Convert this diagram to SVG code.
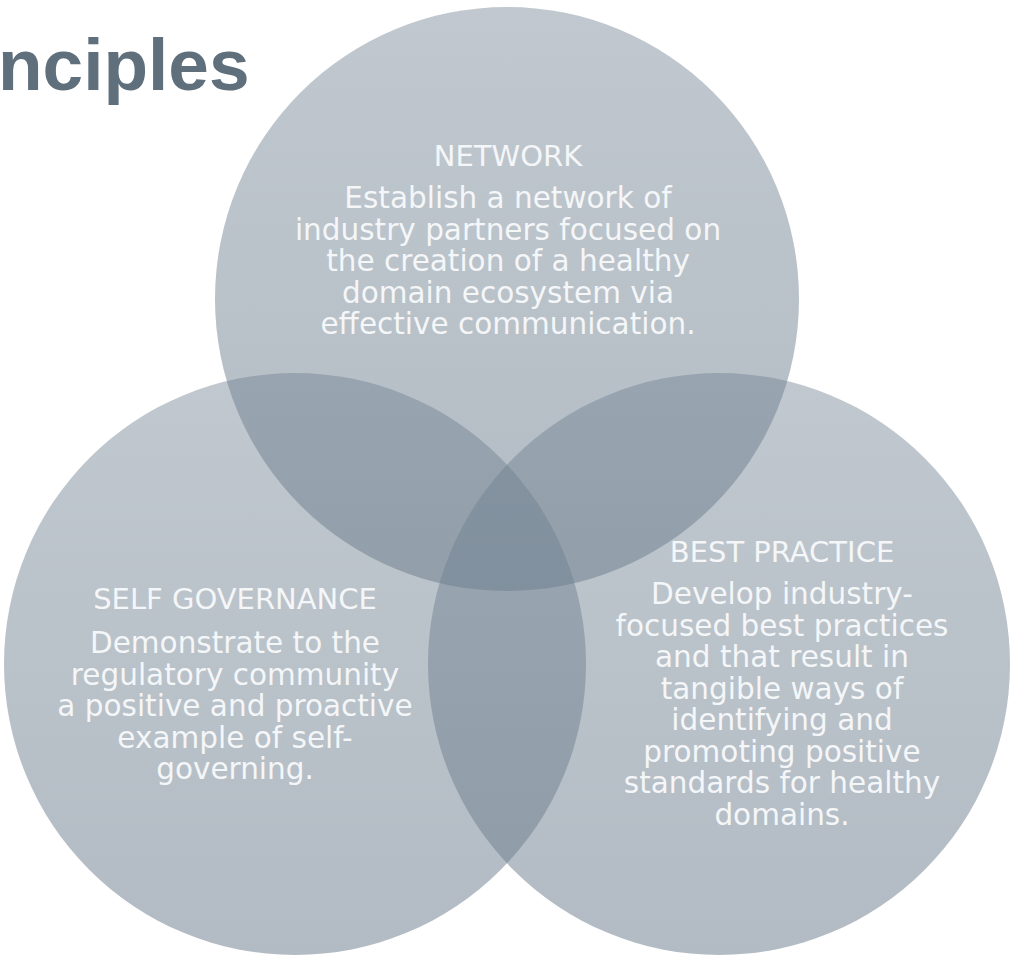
<svg xmlns="http://www.w3.org/2000/svg" width="1014" height="956" viewBox="0 0 1014 956">
<defs>
<linearGradient id="g" x1="0" y1="0" x2="0" y2="1">
<stop offset="0" stop-color="#6E7F8F" stop-opacity="0.43"/>
<stop offset="1" stop-color="#6E7F8F" stop-opacity="0.53"/>
</linearGradient>
<style>
.c{fill:url(#g);}
.h{font-family:"DejaVu Sans",Verdana,sans-serif;font-size:29px;fill:#F4F6F8;text-anchor:middle;}
.b{font-family:"DejaVu Sans",Verdana,sans-serif;font-size:29.5px;fill:#F4F6F8;text-anchor:middle;}
.t{font-family:"Liberation Sans",Arial,sans-serif;font-size:73px;font-weight:bold;fill:#5F6F7C;}
</style>
</defs>
<rect width="1014" height="956" fill="#FFFFFF"/>
<text class="t" x="-2" y="90">nciples</text>
<g id="network">
<circle class="c" cx="507" cy="299" r="292"/>
<text class="h" x="508" y="166">NETWORK</text>
<text class="b" x="508" y="208">Establish a network of</text>
<text class="b" x="508" y="239.5">industry partners focused on</text>
<text class="b" x="508" y="271">the creation of a healthy</text>
<text class="b" x="508" y="302.5">domain ecosystem via</text>
<text class="b" x="508" y="334">effective communication.</text>
</g>
<g id="self-governance">
<circle class="c" cx="295" cy="664" r="291"/>
<text class="h" x="235" y="609">SELF GOVERNANCE</text>
<text class="b" x="235" y="653">Demonstrate to the</text>
<text class="b" x="235" y="684.5">regulatory community</text>
<text class="b" x="235" y="716">a positive and proactive</text>
<text class="b" x="235" y="747.5">example of self-</text>
<text class="b" x="235" y="779">governing.</text>
</g>
<g id="best-practice">
<circle class="c" cx="719" cy="664" r="291"/>
<text class="h" x="782" y="562">BEST PRACTICE</text>
<text class="b" x="782" y="604">Develop industry-</text>
<text class="b" x="782" y="635.5">focused best practices</text>
<text class="b" x="782" y="667">and that result in</text>
<text class="b" x="782" y="698.5">tangible ways of</text>
<text class="b" x="782" y="730">identifying and</text>
<text class="b" x="782" y="761.5">promoting positive</text>
<text class="b" x="782" y="793">standards for healthy</text>
<text class="b" x="782" y="824.5">domains.</text>
</g>
</svg>
